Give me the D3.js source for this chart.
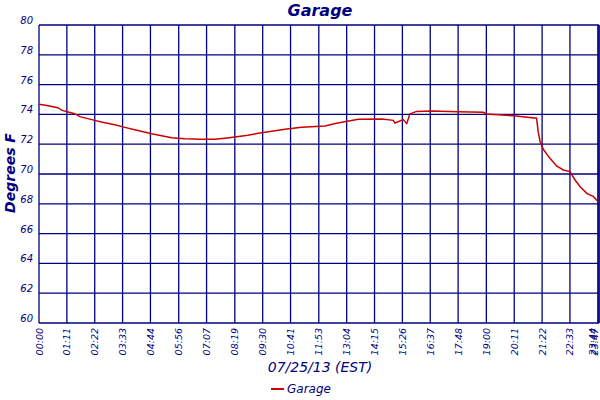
<!DOCTYPE html>
<html>
<head>
<meta charset="utf-8">
<script src="https://cdn.jsdelivr.net/npm/d3@7"></script>
<style>
  body { margin: 0; background: #fff; }
  text { font-family: "DejaVu Sans", Verdana, sans-serif; font-style: italic; fill: #000080; }
</style>
</head>
<body>
<svg id="chart"></svg>
<script>
// readings (minutes after midnight) and temperature in F
var minutes = [0, 20, 48, 59, 91, 104, 142, 162, 193, 219, 244, 287, 338, 372, 414, 448, 474,
    499, 532, 567, 627, 669, 729, 758, 814, 873, 903, 907, 928, 937, 945, 962, 1001, 1068,
    1132, 1141, 1209, 1268, 1272, 1277, 1285, 1302, 1319, 1336, 1353, 1366, 1379, 1396, 1413, 1425];
var temps = [74.68, 74.6, 74.45, 74.27, 74.05, 73.85, 73.6, 73.47, 73.3, 73.13, 72.97, 72.7, 72.44, 72.37, 72.33, 72.33, 72.4,
    72.48, 72.6, 72.77, 73.0, 73.13, 73.22, 73.4, 73.67, 73.69, 73.6, 73.42, 73.65, 73.38, 74.03, 74.2, 74.23, 74.18,
    74.14, 74.03, 73.91, 73.74, 72.84, 72.17, 71.66, 71.05, 70.54, 70.27, 70.16, 69.6, 69.15, 68.7, 68.48, 68.14];

var xTickLabels = ["00:00", "01:11", "02:22", "03:33", "04:44", "05:56", "07:07", "08:19", "09:30", "10:41",
    "11:53", "13:04", "14:15", "15:26", "16:37", "17:48", "19:00", "20:11", "21:22", "22:33", "23:44", "23:47"];
var yTicks = [60, 62, 64, 66, 68, 70, 72, 74, 76, 78, 80];

var dimensions = {
    width: 600,
    height: 400,
    margin: { top: 25, bottom: 77, left: 39, right: 1 }
};

var svg = d3.select("#chart")
    .attr("width", dimensions.width)
    .attr("height", dimensions.height);

function toMin(s) {
    var p = s.split(":");
    return +p[0] * 60 + +p[1];
}

var xScale = d3.scaleLinear()
    .domain([0, 1427])
    .range([dimensions.margin.left, dimensions.width - dimensions.margin.right]);

var yScale = d3.scaleLinear()
    .domain([60, 80])
    .range([dimensions.height - dimensions.margin.bottom, dimensions.margin.top]);

var navy = "#000080";

// grid
var grid = svg.append("g");
grid.selectAll(".hline")
    .data(yTicks)
    .enter()
    .append("line")
    .attr("x1", xScale(0)).attr("x2", xScale(1427))
    .attr("y1", d => yScale(d)).attr("y2", d => yScale(d))
    .attr("stroke", navy).attr("stroke-width", 1.3);

grid.selectAll(".vline")
    .data(xTickLabels.map(toMin).concat([1427]))
    .enter()
    .append("line")
    .attr("x1", d => xScale(d)).attr("x2", d => xScale(d))
    .attr("y1", yScale(60)).attr("y2", yScale(80))
    .attr("stroke", navy).attr("stroke-width", 1.3);

// y labels
svg.selectAll(".ylab")
    .data(yTicks)
    .enter()
    .append("text")
    .attr("x", 33)
    .attr("y", d => yScale(d))
    .attr("dy", "-0.1em")
    .attr("text-anchor", "end")
    .style("font-size", "10px")
    .text(d => d);

// x labels (the last two squeezed in against the right edge, overlapping)
var n = xTickLabels.length;
svg.selectAll(".xlab")
    .data(xTickLabels)
    .enter()
    .append("text")
    .attr("transform", function(d, i) {
        var x = xScale(toMin(d)) + 3.5;
        if (i === n - 2) x = 596;
        if (i === n - 1) x = 598;
        return "translate(" + x + "," + (yScale(60) + 5) + ") rotate(-90)";
    })
    .attr("text-anchor", "end")
    .style("font-size", "9.5px")
    .text(d => d);

// line
var points = minutes.map((m, i) => [m, temps[i]]);
var line = d3.line()
    .x(d => xScale(d[0]))
    .y(d => yScale(d[1]));

svg.append("path")
    .datum(points)
    .attr("d", line)
    .attr("fill", "none")
    .attr("stroke", "#cc0000")
    .attr("stroke-width", 1.5);

// titles
svg.append("text")
    .attr("x", 320).attr("y", 16)
    .attr("text-anchor", "middle")
    .style("font-size", "16px")
    .style("font-weight", "bold")
    .text("Garage");

svg.append("text")
    .attr("transform", "translate(15,173) rotate(-90)")
    .attr("text-anchor", "middle")
    .style("font-size", "14px")
    .style("font-weight", "bold")
    .text("Degrees F");

svg.append("text")
    .attr("x", 320).attr("y", 372)
    .attr("text-anchor", "middle")
    .style("font-size", "14px")
    .text("07/25/13 (EST)");

// legend
svg.append("line")
    .attr("x1", 271).attr("x2", 284)
    .attr("y1", 389).attr("y2", 389)
    .attr("stroke", "#cc0000").attr("stroke-width", 2);

svg.append("text")
    .attr("x", 287).attr("y", 393)
    .style("font-size", "12px")
    .text("Garage");
</script>
</body>
</html>
